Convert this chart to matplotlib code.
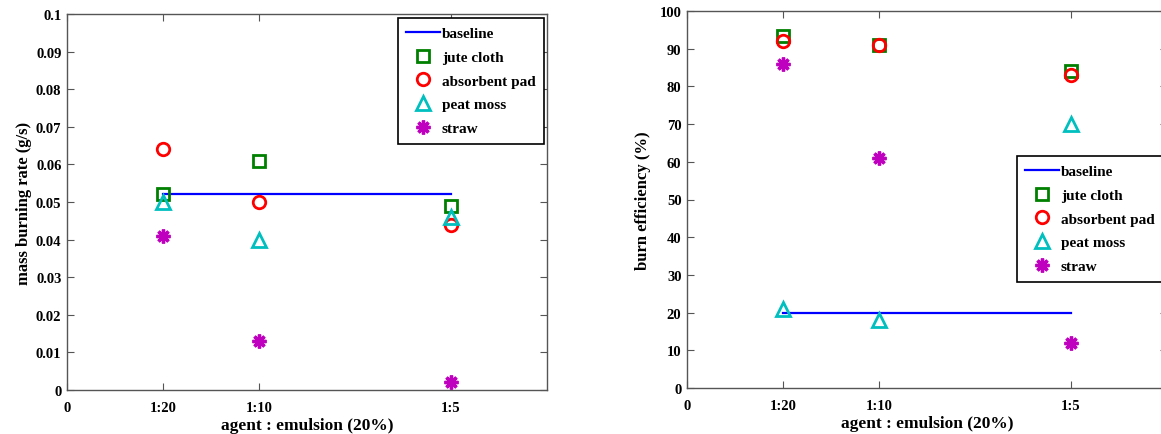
import numpy as np
import matplotlib
matplotlib.use("Agg")
import matplotlib.pyplot as plt

# agent : emulsion ratios and their tick labels
ratios = [0.05, 0.1, 0.2]
ratio_labels = ["1:20", "1:10", "1:5"]

# mass burning rate (g/s)
rate_baseline = 0.052
rate_jute = [0.052, 0.061, 0.049]
rate_pad = [0.064, 0.050, 0.044]
rate_peat = [0.050, 0.040, 0.046]
rate_straw = [0.041, 0.013, 0.002]

# burn efficiency (%)
eff_baseline = 20
eff_jute = [93.5, 91, 84]
eff_pad = [92, 91, 83]
eff_peat = [21, 18, 70]
eff_straw = [86, 61, 12]

GREEN = "#008000"
RED = "#ff0000"
CYAN = "#00bfbf"
MAGENTA = "#bf00bf"
BLUE = "#0000ff"

plt.rcParams["font.family"] = ["Liberation Serif", "DejaVu Serif"]
plt.rcParams["font.weight"] = "bold"
plt.rcParams["font.size"] = 10
plt.rcParams["axes.labelweight"] = "bold"

W, H = 1161, 435
fig = plt.figure(figsize=(W / 100, H / 100), dpi=100)


def px_axes(left, top, right, bottom):
    return fig.add_axes([left / W, 1 - bottom / H, (right - left) / W, (bottom - top) / H])


def draw(ax, baseline, jute, pad, peat, straw):
    ms = 9
    mew = 2.0
    ax.plot(ratios, [baseline] * len(ratios), color=BLUE, lw=1.6, label="baseline", zorder=2)
    ax.plot(ratios, jute, ls="none", marker="s", ms=ms, mew=mew, mfc="none", mec=GREEN,
            label="jute cloth", zorder=3)
    ax.plot(ratios, pad, ls="none", marker="o", ms=ms, mew=mew, mfc="none", mec=RED,
            label="absorbent pad", zorder=3)
    ax.plot(ratios, peat, ls="none", marker="^", ms=ms + 1.5, mew=mew, mfc="none", mec=CYAN,
            label="peat moss", zorder=3)
    ax.plot(ratios, straw, ls="none", marker=(8, 2, 0), ms=ms + 1, mew=2.4, mec=MAGENTA,
            color=MAGENTA, label="straw", zorder=3)

    ax.set_xlim(0, 0.25)
    ax.set_xticks([0] + ratios)
    ax.set_xticklabels(["0"] + ratio_labels)
    ax.tick_params(direction="in", top=True, right=True, length=5, width=0.8,
                   color="#555555", labelsize=10.5, pad=4)
    ax.tick_params(axis="x", pad=8)
    for s in ax.spines.values():
        s.set_color("#555555")
        s.set_linewidth(1.0)
    ax.set_xlabel("agent : emulsion (20%)", fontsize=12.5, labelpad=2)


ax1 = px_axes(67, 15, 547, 391)
draw(ax1, rate_baseline, rate_jute, rate_pad, rate_peat, rate_straw)
ax1.set_ylim(0, 0.1)
ax1.set_yticks(np.arange(0, 0.101, 0.01))
ax1.set_yticklabels(["0"] + ["%.2f" % v for v in np.arange(0.01, 0.095, 0.01)] + ["0.1"])
ax1.set_ylabel("mass burning rate (g/s)", fontsize=12, labelpad=3)

ax2 = px_axes(687, 12, 1167, 389)
draw(ax2, eff_baseline, eff_jute, eff_pad, eff_peat, eff_straw)
ax2.set_ylim(0, 100)
ax2.set_yticks(np.arange(0, 101, 10))
ax2.set_ylabel("burn efficiency (%)", fontsize=12, labelpad=6)

leg_kw = dict(frameon=True, fancybox=False, edgecolor="black", framealpha=1,
              handlelength=2.2, handletextpad=0.12, labelspacing=0.66,
              borderpad=0.55, borderaxespad=0, fontsize=11,
              bbox_transform=fig.transFigure)
leg1 = ax1.legend(loc="upper right", bbox_to_anchor=(544 / W, 1 - 19 / H), **leg_kw)
leg2 = ax2.legend(loc="upper left", bbox_to_anchor=(1017 / W, 1 - 157 / H), **leg_kw)
for leg in (leg1, leg2):
    leg.get_frame().set_linewidth(1.2)

fig.savefig("out.png", dpi=100)
